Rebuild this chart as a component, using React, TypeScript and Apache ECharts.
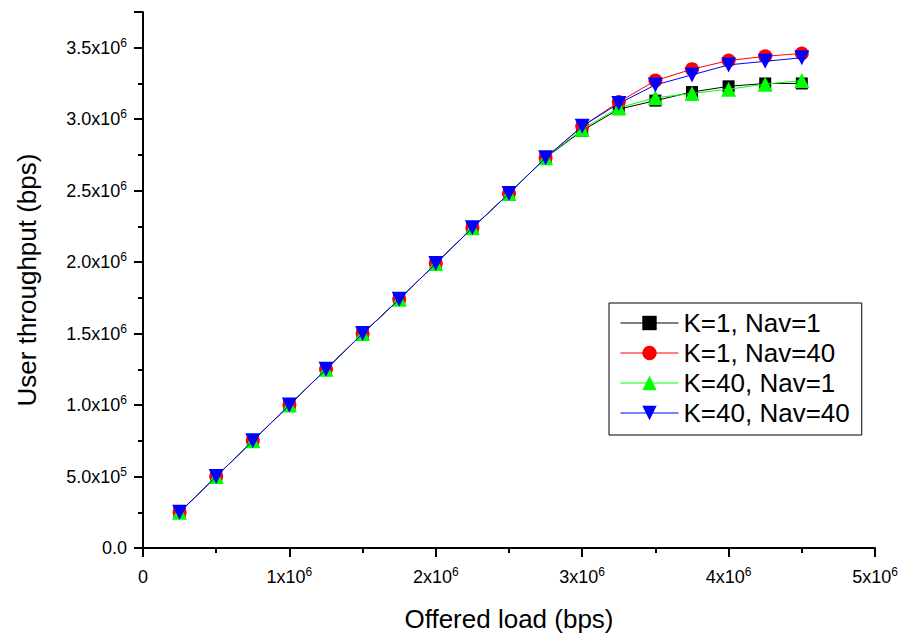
import React, { useEffect, useRef } from "react";
import * as echarts from "echarts";

const offeredLoad = [
  0.25e6, 0.5e6, 0.75e6, 1.0e6, 1.25e6, 1.5e6, 1.75e6, 2.0e6, 2.25e6,
  2.5e6, 2.75e6, 3.0e6, 3.25e6, 3.5e6, 3.75e6, 4.0e6, 4.25e6, 4.5e6,
];
const k1nav1 = [
  0.25e6, 0.5e6, 0.75e6, 1.0e6, 1.25e6, 1.5e6, 1.74e6, 1.99e6, 2.24e6,
  2.48e6, 2.73e6, 2.92e6, 3.07e6, 3.13e6, 3.19e6, 3.23e6, 3.25e6, 3.25e6,
];
const k1nav40 = [
  0.25e6, 0.5e6, 0.75e6, 1.0e6, 1.25e6, 1.5e6, 1.74e6, 1.99e6, 2.24e6,
  2.48e6, 2.73e6, 2.95e6, 3.12e6, 3.27e6, 3.35e6, 3.41e6, 3.44e6, 3.46e6,
];
const k40nav1 = [
  0.25e6, 0.5e6, 0.75e6, 1.0e6, 1.25e6, 1.5e6, 1.74e6, 1.99e6, 2.24e6,
  2.48e6, 2.73e6, 2.93e6, 3.08e6, 3.15e6, 3.18e6, 3.21e6, 3.245e6, 3.27e6,
];
const k40nav40 = [
  0.25e6, 0.5e6, 0.75e6, 1.0e6, 1.25e6, 1.5e6, 1.74e6, 1.99e6, 2.24e6,
  2.48e6, 2.73e6, 2.95e6, 3.11e6, 3.24e6, 3.31e6, 3.38e6, 3.405e6, 3.43e6,
];
const seriesNames = ["K=1, Nav=1", "K=1, Nav=40", "K=40, Nav=1", "K=40, Nav=40"];

const FONT = "'Liberation Sans', Arial, sans-serif";

const rich = {
  b: { fontSize: 18, fontFamily: FONT, color: "#000", lineHeight: 22 },
  s: { fontSize: 12, fontFamily: FONT, color: "#000", lineHeight: 10, verticalAlign: "top" },
};

function yLabel(v: number): string {
  if (Math.round(v / 2.5e5) % 2 !== 0) return "";
  if (v === 0) return "{b|0.0}";
  const e = Math.floor(Math.log10(v) + 1e-9);
  const m = v / Math.pow(10, e);
  return `{b|${m.toFixed(1)}x10}{s|${e}}`;
}

function xLabel(v: number): string {
  if (v === 0) return "{b|0}";
  const e = Math.floor(Math.log10(v) + 1e-9);
  const m = Math.round(v / Math.pow(10, e));
  return `{b|${m}x10}{s|${e}}`;
}

function pairs(ys: number[]) {
  return offeredLoad.map((x, i) => [x, ys[i]]);
}

export default function App() {
  const ref = useRef<HTMLDivElement>(null);
  useEffect(() => {
    if (!ref.current) return;
    const chart = echarts.init(ref.current, undefined, { renderer: "svg" });
    const colors = ["#000000", "#ff0000", "#00ff00", "#0000ff"];
    const symbols = ["rect", "circle", "triangle", "triangle"];
    const sizes = [12, 14, 15, 15];
    const rotates = [0, 0, 0, 180];
    const datas = [k1nav1, k1nav40, k40nav1, k40nav40];
    chart.setOption({
      animation: false,
      backgroundColor: "#ffffff",
      grid: { left: 143, right: 29, top: 12, bottom: 92 },
      legend: {
        orient: "vertical",
        left: 609,
        top: 303,
        padding: [7, 12, 9, 11],
        itemGap: 4,
        itemWidth: 58,
        itemHeight: 18,
        borderColor: "#000",
        borderWidth: 1,
        data: seriesNames,
        lineStyle: { width: 1 },
        textStyle: { fontSize: 26, fontFamily: FONT, color: "#000" },
      },
      xAxis: {
        type: "value",
        min: 0,
        max: 5e6,
        interval: 1e6,
        name: "Offered load (bps)",
        nameLocation: "middle",
        nameGap: 58,
        nameTextStyle: { fontSize: 26, fontFamily: FONT, color: "#000" },
        axisLine: { lineStyle: { color: "#000", width: 2 } },
        axisTick: { length: 9, lineStyle: { color: "#000", width: 2 } },
        minorTick: { show: true, splitNumber: 2, length: 5, lineStyle: { color: "#000", width: 2 } },
        splitLine: { show: false },
        axisLabel: { margin: 18, formatter: xLabel, rich },
      },
      yAxis: [
        {
          type: "value",
          min: 0,
          max: 3.75e6,
          interval: 2.5e5,
          name: "User throughput (bps)",
          nameLocation: "middle",
          nameGap: 103,
          nameTextStyle: { fontSize: 26, fontFamily: FONT, color: "#000" },
          axisLine: { show: true, lineStyle: { color: "#000", width: 2 } },
          axisTick: { show: true, length: 5, lineStyle: { color: "#000", width: 2 } },
          splitLine: { show: false },
          axisLabel: { margin: 16, formatter: yLabel, rich },
        },
        {
          type: "value",
          position: "left",
          min: 0,
          max: 3.75e6,
          interval: 5e5,
          axisLine: { show: false },
          axisTick: { show: true, length: 9, lineStyle: { color: "#000", width: 2 } },
          axisLabel: { show: false },
          splitLine: { show: false },
        },
      ],
      series: datas.map((d, i) => ({
        name: seriesNames[i],
        type: "line",
        data: pairs(d),
        symbol: symbols[i],
        symbolSize: sizes[i],
        symbolRotate: rotates[i],
        showAllSymbol: true,
        color: colors[i],
        lineStyle: { color: colors[i], width: 1 },
        itemStyle: { color: colors[i] },
        z: 2 + i,
      })),
    });
    return () => chart.dispose();
  }, []);
  return (
    <div
      ref={ref}
      style={{ position: "absolute", left: 0, top: 0, width: 904, height: 640, background: "#fff" }}
    />
  );
}
